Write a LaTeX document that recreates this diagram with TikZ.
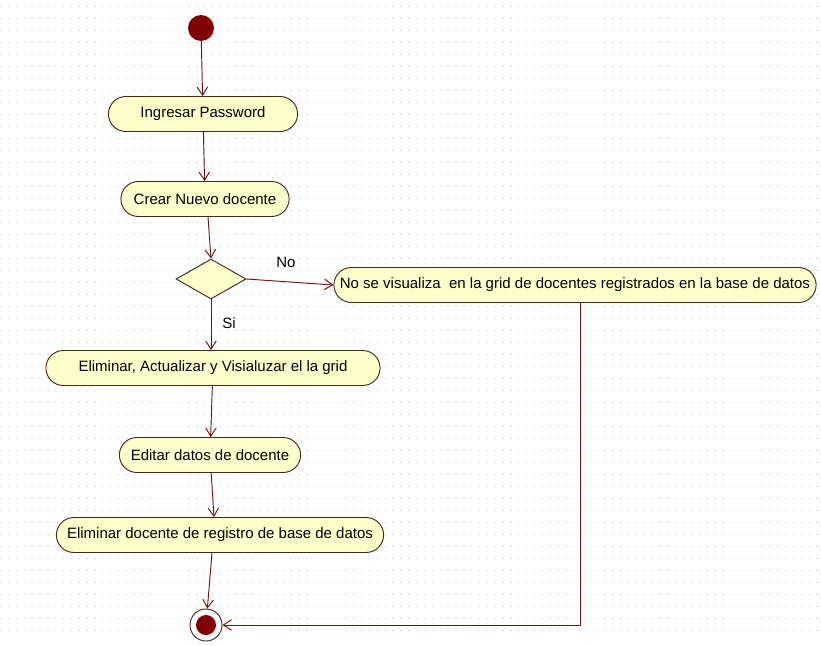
\documentclass[tikz,border=0pt]{standalone}
\usepackage{fontspec}
\setmainfont{Liberation Sans}
\usetikzlibrary{shapes.geometric,shapes.misc,arrows.meta}
\definecolor{actfill}{RGB}{255,255,204}
\definecolor{actline}{RGB}{70,40,30}
\definecolor{flujo}{RGB}{110,20,20}
\definecolor{nodoini}{RGB}{128,0,0}
\begin{document}
\begin{tikzpicture}[x=0.03cm, y=-0.03cm,
    actividad/.style={rounded rectangle, draw=actline, fill=actfill, thick, minimum height=1.05cm, font=\fontsize{12.8}{15}\selectfont},
    decision/.style={diamond, draw=actline, fill=actfill, thick, minimum width=2.1cm, minimum height=1.2cm, inner sep=0pt, aspect=1.75},
    flecha/.style={draw=flujo, thick, -{Straight Barb[length=7pt,width=9pt]}},
    etiqueta/.style={font=\fontsize{12.8}{15}\selectfont}]
    % fondo con la rejilla de puntos
    \useasboundingbox (0,0) rectangle (821,645);
    \fill[white] (0,0) rectangle (821,645);
    \foreach \y in {6,18,...,640}
        \draw[gray!30, dash pattern=on 1.2pt off 5.5pt] (0,\y) -- (821,\y);

    % inicio y actividades
    \fill[nodoini] (201,28) circle (13);
    \node[circle, minimum size=0.78cm, inner sep=0pt] (inicio) at (201,28) {};
    \node[actividad, minimum width=5.91cm] (password) at (203,114) {Ingresar Password};
    \node[actividad, minimum width=5.28cm] (crear) at (205,199) {Crear Nuevo docente};
    \node[decision] (dec) at (211,279) {};
    \node[actividad, minimum width=14.7cm] (novis) at (575,285) {No se visualiza\ \ en la grid de docentes registrados en la base de datos};
    \node[actividad, minimum width=10.26cm] (grid) at (213,368) {Eliminar, Actualizar y Visialuzar el la grid};
    \node[actividad, minimum width=5.67cm] (editar) at (210,455) {Editar datos de docente};
    \node[actividad, minimum width=10.05cm] (borrar) at (220,535) {Eliminar docente de registro de base de datos};

    % nodo final
    \node[circle, draw=actline, fill=white, thick, minimum size=0.96cm, inner sep=0pt] (fin) at (206,625) {};
    \fill[nodoini] (fin.center) circle (10);

    % flujos
    \draw[flecha] (inicio) -- (password);
    \draw[flecha] (password) -- (crear);
    \draw[flecha] (crear.south -| 208,0) -- (dec.north);
    \draw[flecha] (dec.east) -- (novis.west);
    \draw[flecha] (dec.south) -- (grid.north -| dec.south);
    \draw[flecha] (grid) -- (editar);
    \draw[flecha] (editar) -- (borrar.north -| 214,0);
    \draw[flecha] (borrar.south -| 212,0) -- (fin);
    \coordinate (baja) at (novis.south -| 580,0);
    \draw[flecha] (baja) |- (fin.east);

    % etiquetas de la decision
    \node[etiqueta] (no) at (286,262) {No};
    \node[etiqueta] (si) at (229,323) {Si};
\end{tikzpicture}
\end{document}
